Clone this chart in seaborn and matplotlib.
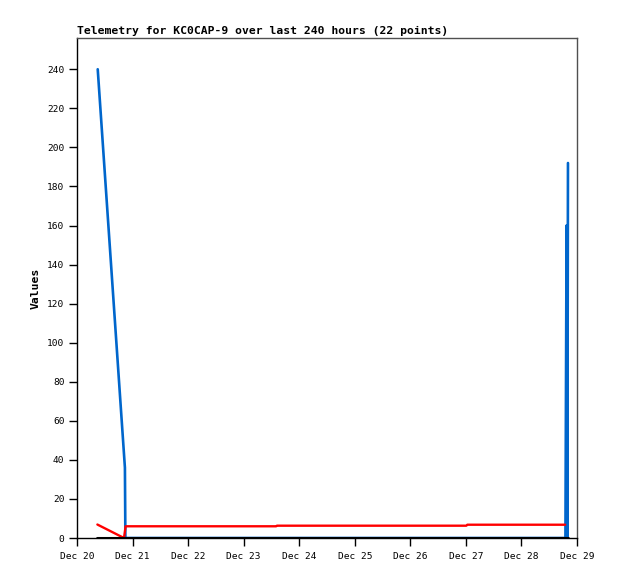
import pandas as pd
import numpy as np
import matplotlib
matplotlib.use('Agg')
import matplotlib.pyplot as plt
import matplotlib.dates as mdates
import seaborn as sns

start = pd.Timestamp('2023-12-20 00:00')

# hours since Dec 20 00:00 and values, one list pair per series
blue_hours = [8.95, 20.7, 20.9, 211.0, 211.5, 211.8, 212.1]
blue_values = [240, 36, 0, 0, 160, 0, 192]

red_hours = [8.8, 20.3, 21.0, 86.0, 86.4, 168.2, 168.6, 210.9]
red_values = [6.9, 0, 6.0, 6.0, 6.3, 6.3, 6.8, 6.8]

black_hours = [8.8, 100.0, 212.2]
black_values = [0, 0, 0]

tick_days = list(range(20, 30))

sns.set_style('white')
plt.rcParams['font.family'] = ['DejaVu Sans Mono']
plt.rcParams['text.color'] = 'black'
plt.rcParams['axes.labelcolor'] = 'black'
plt.rcParams['xtick.color'] = 'black'
plt.rcParams['ytick.color'] = 'black'

fig = plt.figure(figsize=(6.18, 5.79), dpi=100)
ax = fig.add_axes([77 / 618, 1 - 538 / 579, 500 / 618, 500 / 579])

def frame(hours, values):
    return pd.DataFrame({'time': start + pd.to_timedelta(hours, unit='h'), 'value': values})

sns.lineplot(data=frame(blue_hours, blue_values), x='time', y='value', ax=ax,
             color='#0066cc', lw=1.9, sort=False, estimator=None)
sns.lineplot(data=frame(red_hours, red_values), x='time', y='value', ax=ax,
             color='#ff0000', lw=1.7, sort=False, estimator=None)
sns.lineplot(data=frame(black_hours, black_values), x='time', y='value', ax=ax,
             color='black', lw=2.2, sort=False, estimator=None)

ax.set_xlim(start, start + pd.Timedelta(days=9))
ax.set_ylim(0, 256)
ax.set_yticks(range(0, 241, 20))
ax.set_xticks([pd.Timestamp(f'2023-12-{d} 00:00') for d in tick_days])
ax.xaxis.set_major_formatter(mdates.DateFormatter('%b %d'))

ax.tick_params(axis='both', direction='out', length=6, width=1, color='black',
               labelcolor='black', labelsize=6.8, pad=3)
ax.tick_params(axis='x', bottom=True, pad=4)
ax.tick_params(axis='y', left=True)

for side in ['left', 'bottom']:
    ax.spines[side].set_color('black')
    ax.spines[side].set_linewidth(1)
for side in ['top', 'right']:
    ax.spines[side].set_color('#505050')
    ax.spines[side].set_linewidth(1)

ax.set_xlabel('')
ax.set_ylabel('Values', fontsize=8.2, fontweight='bold', color='black', labelpad=5)
ax.set_title('Telemetry for KC0CAP-9 over last 240 hours (22 points)', loc='left',
             fontsize=8.2, fontweight='bold', color='black', pad=3)

fig.savefig('out.png', dpi=100)
